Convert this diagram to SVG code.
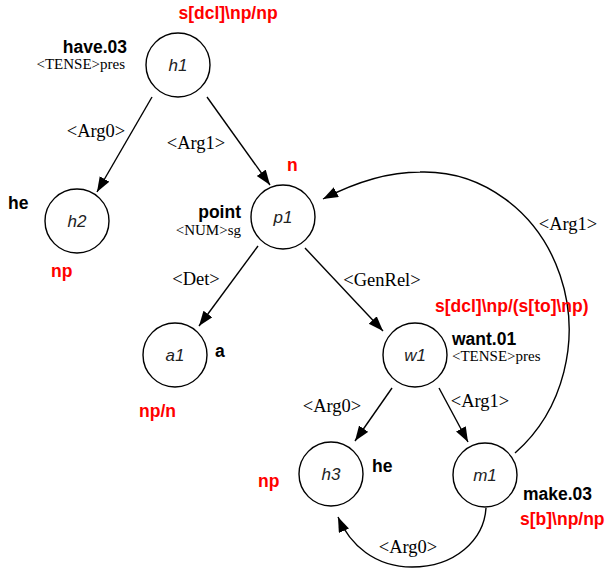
<svg xmlns="http://www.w3.org/2000/svg" width="605" height="570" viewBox="0 0 605 570">
<style>
.node circle{fill:#fff;stroke:#000;stroke-width:1.4}
.nid{font-family:"Liberation Sans",Arial,sans-serif;font-style:italic;font-size:17px;text-anchor:middle;fill:#222}
.pred{font-family:"Liberation Sans",Arial,sans-serif;font-weight:bold;font-size:17.5px;fill:#000}
.cat{font-family:"Liberation Sans",Arial,sans-serif;font-weight:bold;font-size:17.5px;fill:#ff0000}
.attr{font-family:"Liberation Serif","Times New Roman",serif;font-size:15px;fill:#000}
.elab{font-family:"Liberation Serif","Times New Roman",serif;font-size:18.5px;fill:#000;text-anchor:middle}
.edge{fill:none;stroke:#000;stroke-width:1.4;marker-end:url(#arr)}
.end{text-anchor:end}
</style>
<defs>
<marker id="arr" markerUnits="userSpaceOnUse" markerWidth="16" markerHeight="12" refX="15" refY="5.5" orient="auto">
<path d="M0,0 L15,5.5 L0,11 z" fill="#000"/>
</marker>
</defs>
<g id="connectors">
<path class="edge" d="M152,97 L97,192"/>
<path class="edge" d="M207,97 L270,185"/>
<path class="edge" d="M258,246 L199,326"/>
<path class="edge" d="M305,248 L383,331"/>
<path class="edge" d="M392,388 L355,441"/>
<path class="edge" d="M439,388 L468,442"/>
<path class="edge" d="M515,453 A145,158 0 0 0 420,172 C385,172 352,184 323,199"/>
<path class="edge" d="M486,508 C484,540 455,567 412,567 C375,567 350,545 338,517"/>
<text class="elab" x="96" y="137">&lt;Arg0&gt;</text>
<text class="elab" x="196" y="149">&lt;Arg1&gt;</text>
<text class="elab" x="196" y="285">&lt;Det&gt;</text>
<text class="elab" x="382" y="286">&lt;GenRel&gt;</text>
<text class="elab" x="568" y="230">&lt;Arg1&gt;</text>
<text class="elab" x="332" y="412">&lt;Arg0&gt;</text>
<text class="elab" x="480" y="407">&lt;Arg1&gt;</text>
<text class="elab" x="408" y="553">&lt;Arg0&gt;</text>
</g>
<g id="h1" class="node">
<circle cx="178" cy="65" r="32"/>
<text class="nid" x="178" y="71">h1</text>
<text class="cat" x="228" y="19" text-anchor="middle">s[dcl]\np/np</text>
<text class="pred end" x="127" y="53">have.03</text>
<text class="attr end" x="125" y="69">&lt;TENSE&gt;pres</text>
</g>
<g id="h2" class="node">
<circle cx="77" cy="221" r="32"/>
<text class="nid" x="77" y="227">h2</text>
<text class="pred" x="8" y="209">he</text>
<text class="cat" x="51" y="277">np</text>
</g>
<g id="p1" class="node">
<circle cx="283" cy="217" r="32"/>
<text class="nid" x="283" y="223">p1</text>
<text class="cat" x="287" y="171">n</text>
<text class="pred end" x="241" y="218">point</text>
<text class="attr end" x="241" y="235">&lt;NUM&gt;sg</text>
</g>
<g id="a1" class="node">
<circle cx="175" cy="355" r="32"/>
<text class="nid" x="175" y="361">a1</text>
<text class="pred" x="215" y="357">a</text>
<text class="cat" x="139" y="417">np/n</text>
</g>
<g id="w1" class="node">
<circle cx="415" cy="355" r="32"/>
<text class="nid" x="415" y="361">w1</text>
<text class="cat" x="435" y="312">s[dcl]\np/(s[to]\np)</text>
<text class="pred" x="452" y="345">want.01</text>
<text class="attr" x="452" y="361">&lt;TENSE&gt;pres</text>
</g>
<g id="h3" class="node">
<circle cx="331" cy="474" r="32"/>
<text class="nid" x="331" y="480">h3</text>
<text class="pred" x="372" y="472">he</text>
<text class="cat" x="258" y="487">np</text>
</g>
<g id="m1" class="node">
<circle cx="485" cy="475" r="32"/>
<text class="nid" x="485" y="481">m1</text>
<text class="pred" x="523" y="500">make.03</text>
<text class="cat" x="520" y="525">s[b]\np/np</text>
</g>
</svg>
